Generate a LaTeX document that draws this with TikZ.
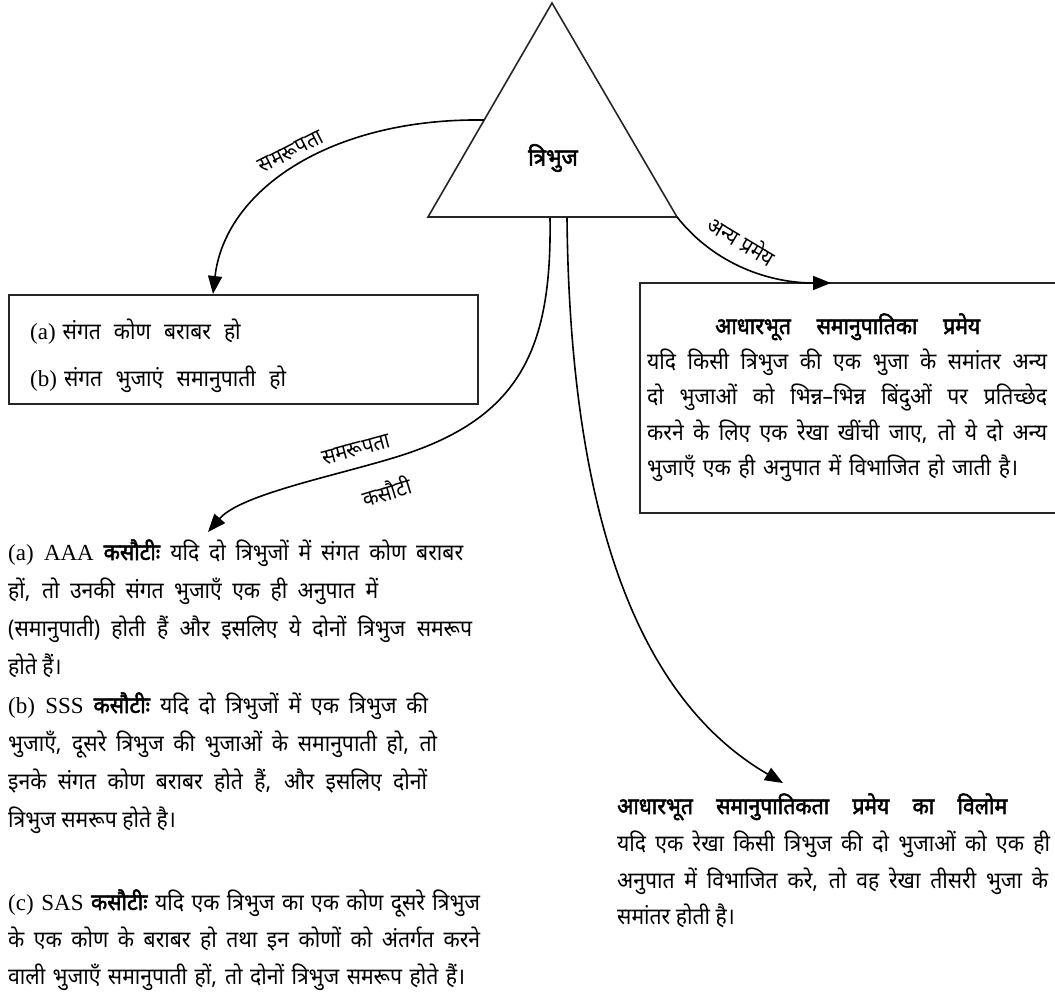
\documentclass[tikz,border=0pt]{standalone}
\usepackage{fontspec}
\usepackage{graphicx}
\setmainfont{Noto Sans}[Script=Devanagari, FakeStretch=0.92, BoldFont={Noto Sans}, BoldFeatures={FakeBold=2.2}]
\newfontfamily\lat{Liberation Serif}
\usetikzlibrary{arrows.meta}
\newsavebox\jlbox
\newcommand\jline[2]{\sbox\jlbox{#2}\ifdim\wd\jlbox>#1\relax\resizebox{#1}{\height}{\usebox\jlbox}\else\makebox[#1][s]{#2}\fi}
\begin{document}
\begin{tikzpicture}[x=1pt,y=-1pt,
  shapeline/.style={line width=1.6pt, draw=black!85},
  conn/.style={line width=1.6pt, -{Triangle[length=18pt,width=14pt]}},
  lbl/.style={inner sep=0pt, font=\fontsize{22}{22}\selectfont},
  txt/.style={anchor=base west, inner sep=0pt, font=\fontsize{23}{23}\selectfont},
  ttl/.style={anchor=base west, inner sep=0pt, font=\fontsize{23}{23}\selectfont\bfseries}]
\useasboundingbox (0,0) rectangle (1055,1008);
\fill[white] (0,0) rectangle (1055,1008);

% triangle
\coordinate (apex) at (552,3);
\coordinate (tbl) at (428,217);
\coordinate (tbr) at (677,217);
\draw[shapeline, line join=miter] (apex) -- (tbl) -- (tbr) -- cycle;
\node[inner sep=0pt, font=\fontsize{24}{24}\selectfont\bfseries] (tri) at (553,158) {त्रिभुज};

% connector anchors on the triangle
\coordinate (tl) at (484,120);
\coordinate (b1) at (550,218);
\coordinate (b2) at (567,218);

% left box
\node[shapeline, draw, anchor=north west, minimum width=469pt, minimum height=109pt, inner sep=0pt] (boxA) at (8,294) {};
\node[txt] (boxAa) at (30,340) {{\lat (a)}\hspace{7pt}\jline{178pt}{संगत कोण बराबर हो}};
\node[txt] (boxAb) at (30,386) {{\lat (b)}\hspace{7pt}\jline{222pt}{संगत भुजाएं समानुपाती हो}};
\coordinate (e1) at (213,294);

% right box (cut at the right edge)
\coordinate (rb1) at (1058,283);
\coordinate (rb2) at (640,283);
\coordinate (rb3) at (640,513);
\coordinate (rb4) at (1058,513);
\draw[shapeline] (rb1) -- (rb2) -- (rb3) -- (rb4);
\coordinate (e2) at (831,283);
\node[ttl] (rbt) at (715,334) {\jline{265pt}{आधारभूत समानुपातिका प्रमेय}};
\node[txt] (rb1l) at (647,369) {\jline{400pt}{यदि किसी त्रिभुज की एक भुजा के समांतर अन्य}};
\node[txt] (rb2l) at (647,404) {\jline{400pt}{दो भुजाओं को भिन्न–भिन्न बिंदुओं पर प्रतिच्छेद}};
\node[txt] (rb3l) at (647,440) {\jline{400pt}{करने के लिए एक रेखा खींची जाए, तो ये दो अन्य}};
\node[txt] (rb4l) at (647,475) {\jline{371pt}{भुजाएँ एक ही अनुपात में विभाजित हो जाती है।}};

% left long text
\coordinate (e3) at (208,532);
\node[txt] (l1) at (8,560) {\jline{455pt}{{\lat (a) AAA} \textbf{कसौटीः} यदि दो त्रिभुजों में संगत कोण बराबर}};
\node[txt] (l2) at (8,598) {\jline{370pt}{हों, तो उनकी संगत भुजाएँ एक ही अनुपात में}};
\node[txt] (l3) at (8,636) {\jline{464pt}{(समानुपाती) होती हैं और इसलिए ये दोनों त्रिभुज समरूप}};
\node[txt] (l4) at (8,674) {होते हैं।};
\node[txt] (l5) at (8,713) {\jline{420pt}{{\lat (b) SSS} \textbf{कसौटीः} यदि दो त्रिभुजों में एक त्रिभुज की}};
\node[txt] (l6) at (8,751) {\jline{429pt}{भुजाएँ, दूसरे त्रिभुज की भुजाओं के समानुपाती हो, तो}};
\node[txt] (l7) at (8,789) {\jline{419pt}{इनके संगत कोण बराबर होते हैं, और इसलिए दोनों}};
\node[txt] (l8) at (8,827) {त्रिभुज समरूप होते है।};
\node[txt] (l9) at (8,910) {\jline{472pt}{{\lat (c) SAS} \textbf{कसौटीः} यदि एक त्रिभुज का एक कोण दूसरे त्रिभुज}};
\node[txt] (l10) at (8,947) {\jline{472pt}{के एक कोण के बराबर हो तथा इन कोणों को अंतर्गत करने}};
\node[txt] (l11) at (8,984) {\jline{457pt}{वाली भुजाएँ समानुपाती हों, तो दोनों त्रिभुज समरूप होते हैं।}};

% lower right text
\coordinate (e4) at (783,783);
\node[ttl] (rt) at (617,814) {\jline{390pt}{आधारभूत समानुपातिकता प्रमेय का विलोम}};
\node[txt] (r1) at (617,851) {\jline{433pt}{यदि एक रेखा किसी त्रिभुज की दो भुजाओं को एक ही}};
\node[txt] (r2) at (617,888) {\jline{431pt}{अनुपात में विभाजित करे, तो वह रेखा तीसरी भुजा के}};
\node[txt] (r3) at (617,924) {समांतर होती है।};

% connectors
\draw[conn] (tl) .. controls (330,118) and (225,190) .. (e1);
\draw[conn] (tbr) .. controls (715,265) and (770,283) .. (e2);
\draw[line width=1.6pt] (b1) .. controls (552,350) and (520,420) .. (393,458) coordinate (mid1);
\draw[conn] (mid1) .. controls (330,477) and (240,495) .. (e3);
\draw[conn] (b2) .. controls (570,520) and (640,700) .. (e4);

% connector labels
\node[lbl, rotate=27] (lab1) at (291,152) {समरूपता};
\node[lbl, rotate=15] (lab2) at (356,450) {समरूपता};
\node[lbl, rotate=17] (lab3) at (387,491) {कसौटी};
\node[lbl, rotate=-31] (lab4) at (742,240) {अन्य प्रमेय};
\end{tikzpicture}
\end{document}
